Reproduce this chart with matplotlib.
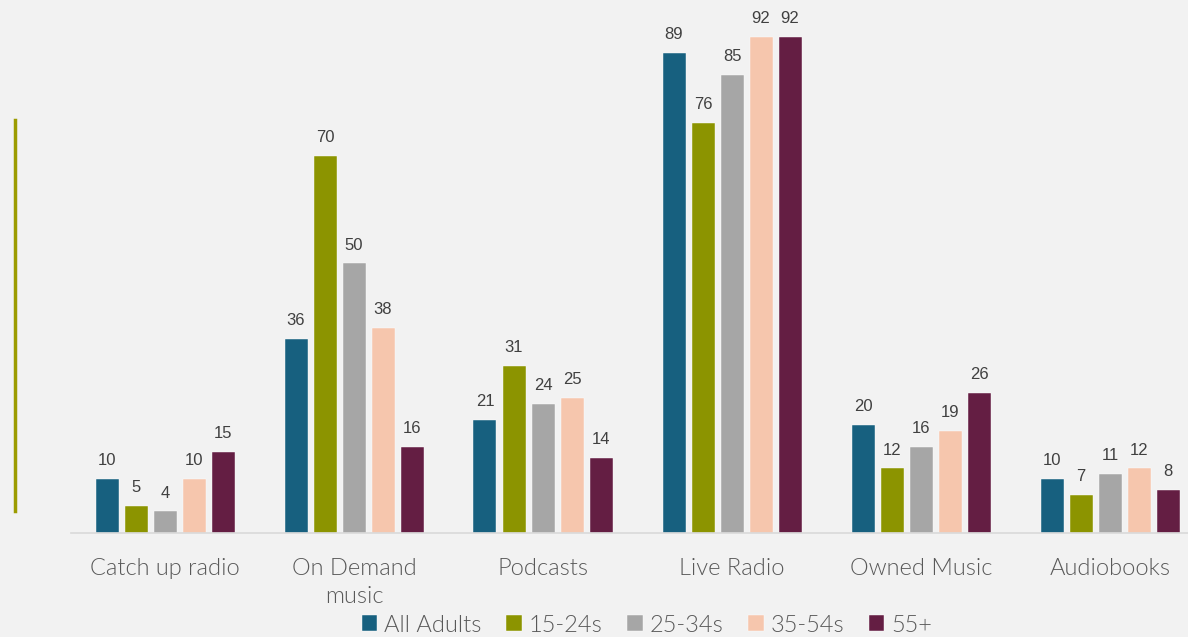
import matplotlib
matplotlib.use("Agg")
import matplotlib.pyplot as plt
import numpy as np

categories = ["Catch up radio", "On Demand\nmusic", "Podcasts", "Live Radio", "Owned Music", "Audiobooks"]
series_names = ["All Adults", "15-24s", "25-34s", "35-54s", "55+"]
all_adults = [10, 36, 21, 89, 20, 10]
age_15_24 = [5, 70, 31, 76, 12, 7]
age_25_34 = [4, 50, 24, 85, 16, 11]
age_35_54 = [10, 38, 25, 92, 19, 12]
age_55_plus = [15, 16, 14, 92, 26, 8]
series = [all_adults, age_15_24, age_25_34, age_35_54, age_55_plus]
colors = ["#17607f", "#8c9400", "#a6a6a6", "#f6c6ad", "#641e43"]

W, H = 1188, 637
fig = plt.figure(figsize=(W / 100, H / 100), dpi=100)
fig.patch.set_facecolor("#f2f2f2")

ax = fig.add_axes([70.5 / W, (H - 533) / H, 1134 / W, 533 / H])
ax.set_facecolor("#f2f2f2")

x = np.arange(len(categories))
step = 29 / 189
width = 23 / 189
for i, (vals, col, name) in enumerate(zip(series, colors, series_names)):
    pos = x + (i - 2) * step
    ax.bar(pos, vals, width, color=col, label=name, edgecolor="#ffffff", linewidth=0.3)
    for p, v in zip(pos, vals):
        ax.text(p, v + 2.0, str(v), ha="center", va="bottom", fontsize=12,
                color="#404040", family="Liberation Sans")

ax.set_xlim(-0.5, len(categories) - 0.5)
ax.set_ylim(0, 533 / (496 / 92))
for s in ["top", "right", "left"]:
    ax.spines[s].set_visible(False)
ax.spines["bottom"].set_color("#d9d9d9")
ax.spines["bottom"].set_linewidth(1.2)
ax.set_yticks([])
ax.set_xticks(x)
ax.set_xticklabels(categories, fontsize=17, color="#595959", family="Lato",
                   fontweight=300, linespacing=1.4)
ax.tick_params(axis="x", length=0, pad=18)

fig.add_artist(plt.Line2D([15 / W, 15 / W], [(H - 120) / H, (H - 511) / H],
                          color="#9c9c00", linewidth=2.5, transform=fig.transFigure))

leg = fig.legend(loc="center", bbox_to_anchor=(647 / W, (H - 625) / H), ncol=5,
                 frameon=False, prop={"family": "Lato", "weight": 300, "size": 17},
                 handlelength=0.65, handleheight=0.65, handletextpad=0.3, columnspacing=1.05,
                 borderaxespad=0, borderpad=0)
for t in leg.get_texts():
    t.set_color("#595959")

fig.savefig("out.png", dpi=100, facecolor=fig.get_facecolor())
